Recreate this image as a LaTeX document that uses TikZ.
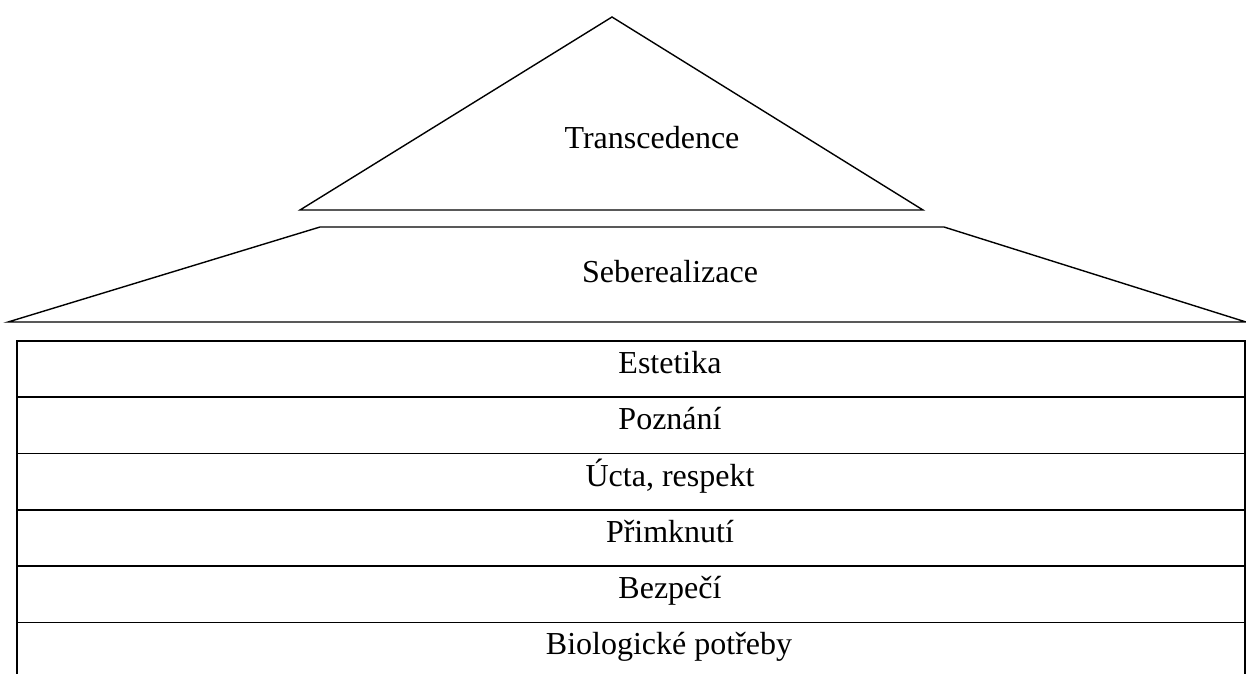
\documentclass[tikz,border=0pt]{standalone}
\usepackage{fontspec}
\setmainfont{Liberation Serif}
\begin{document}
\begin{tikzpicture}[x=1pt,y=-1pt,
  shapeline/.style={line width=1.4pt,line join=miter},
  lbl/.style={anchor=base,inner sep=0pt,font=\fontsize{32}{38}\selectfont}]
\useasboundingbox (0,0) rectangle (1246,673);
% triangle
\draw[shapeline] (612,17) -- (923,210) -- (300,210) -- cycle;
% trapezoid
\draw[shapeline] (320,227) -- (944,227) -- (1246,322) -- (8,322) -- cycle;
% table
\begin{scope}
\clip (0,0) rectangle (1246,673);
\draw[shapeline] (17,690) -- (17,341) -- (1245,341) -- (1245,690);
\foreach \yy in {397,453.5,510,566,622.5}
  \draw[shapeline] (17,\yy) -- (1245,\yy);
\end{scope}
\node[lbl] (t1) at (652,148) {Transcedence};
\node[lbl] (t2) at (670,282) {Seberealizace};
\node[lbl] (r1) at (670,373.5) {Estetika};
\node[lbl] (r2) at (670,429.5) {Poznání};
\node[lbl] (r3) at (670,486) {Úcta, respekt};
\node[lbl] (r4) at (670,542) {Přimknutí};
\node[lbl] (r5) at (670,598.5) {Bezpečí};
\node[lbl] (r6) at (669,654) {Biologické potřeby};
\end{tikzpicture}
\end{document}
